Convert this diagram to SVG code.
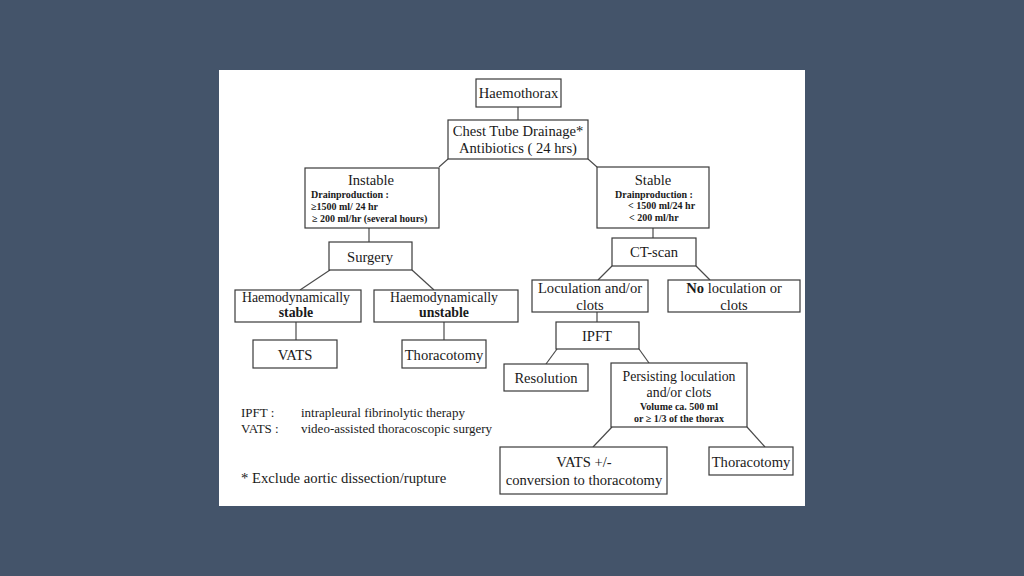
<svg xmlns="http://www.w3.org/2000/svg" width="1024" height="576" viewBox="0 0 1024 576">
<style>
.b{fill:#fff;stroke:#3a3a3a;stroke-width:1.2}
.t{font-family:"Liberation Serif",serif;font-size:14.6px;fill:#1a1a1a;text-anchor:middle}
.m{font-size:13.8px}
.s{font-family:"Liberation Serif",serif;font-size:10px;font-weight:bold;fill:#1a1a1a}
.l{font-family:"Liberation Serif",serif;font-size:13px;fill:#1a1a1a}
.c line{stroke:#4a4a4a;stroke-width:1.2}
</style>
<rect width="1024" height="576" fill="#44546a"/>
<rect x="219" y="70" width="586" height="436" fill="#fff"/>
<g class="c" id="connectors">
<line x1="518" y1="107" x2="518" y2="120"/>
<line x1="448" y1="159" x2="439" y2="167"/>
<line x1="588" y1="159" x2="597" y2="167"/>
<line x1="369" y1="228" x2="369" y2="242"/>
<line x1="330" y1="270" x2="300" y2="290"/>
<line x1="412" y1="270" x2="434" y2="290"/>
<line x1="296" y1="322" x2="296" y2="340"/>
<line x1="444" y1="322" x2="444" y2="340"/>
<line x1="653" y1="228" x2="653" y2="238"/>
<line x1="612" y1="266" x2="598" y2="280"/>
<line x1="696" y1="266" x2="710" y2="280"/>
<line x1="597" y1="312" x2="597" y2="322"/>
<line x1="557" y1="349" x2="546" y2="364"/>
<line x1="639" y1="349" x2="649" y2="363"/>
<line x1="612" y1="427" x2="593" y2="447"/>
<line x1="747" y1="427" x2="765" y2="447"/>
</g>
<g id="haemothorax"><rect class="b" x="476" y="79" width="85" height="28"/><text class="t" x="518.5" y="98">Haemothorax</text></g>
<g id="chest-tube"><rect class="b" x="448" y="120" width="140" height="39"/><text class="t" x="518" y="136">Chest Tube Drainage*</text><text class="t" x="518" y="153">Antibiotics ( 24 hrs)</text></g>
<g id="instable"><rect class="b" x="305" y="168" width="134" height="60"/><text class="t" x="371" y="185">Instable</text><text class="s" x="311" y="198">Drainproduction :</text><text class="s" x="311" y="210">≥1500 ml/ 24 hr</text><text class="s" x="312" y="222">≥ 200 ml/hr (several hours)</text></g>
<g id="stable"><rect class="b" x="597" y="167" width="112" height="61"/><text class="t" x="653" y="185">Stable</text><text class="s" x="615" y="198">Drainproduction :</text><text class="s" x="628" y="209">&lt; 1500 ml/24 hr</text><text class="s" x="629" y="221">&lt; 200 ml/hr</text></g>
<g id="surgery"><rect class="b" x="329" y="242" width="83" height="28"/><text class="t" x="370" y="262">Surgery</text></g>
<g id="haemo-stable"><rect class="b" x="235" y="290" width="126" height="32"/><text class="t m" x="296" y="302">Haemodynamically</text><text class="t m" x="296" y="317" font-weight="bold">stable</text></g>
<g id="haemo-unstable"><rect class="b" x="374" y="290" width="144" height="32"/><text class="t m" x="444" y="302">Haemodynamically</text><text class="t m" x="444" y="317" font-weight="bold">unstable</text></g>
<g id="vats-left"><rect class="b" x="253" y="340" width="84" height="28"/><text class="t" x="295" y="360">VATS</text></g>
<g id="thoracotomy-left"><rect class="b" x="402" y="340" width="84" height="28"/><text class="t" x="444" y="360">Thoracotomy</text></g>
<g id="ct-scan"><rect class="b" x="612" y="238" width="84" height="28"/><text class="t" x="654" y="257">CT-scan</text></g>
<g id="loculation"><rect class="b" x="532" y="280" width="116" height="32"/><text class="t" x="590" y="293">Loculation and/or</text><text class="t" x="590" y="310">clots</text></g>
<g id="no-loculation"><rect class="b" x="668" y="280" width="132" height="32"/><text class="t" x="734" y="293"><tspan font-weight="bold">No</tspan> loculation or</text><text class="t" x="734" y="310">clots</text></g>
<g id="ipft"><rect class="b" x="556" y="322" width="83" height="27"/><text class="t" x="597" y="341">IPFT</text></g>
<g id="resolution"><rect class="b" x="504" y="364" width="84" height="27"/><text class="t" x="546" y="383">Resolution</text></g>
<g id="persisting"><rect class="b" x="611" y="363" width="136" height="64"/><text class="t m" x="679" y="381">Persisting loculation</text><text class="t m" x="679" y="397">and/or clots</text><text class="s" x="679" y="410" text-anchor="middle">Volume ca. 500 ml</text><text class="s" x="679" y="422" text-anchor="middle">or ≥ 1/3 of the thorax</text></g>
<g id="vats-conversion"><rect class="b" x="500" y="447" width="167" height="47"/><text class="t" x="584" y="467">VATS +/-</text><text class="t" x="584" y="485">conversion to thoracotomy</text></g>
<g id="thoracotomy-right"><rect class="b" x="709" y="447" width="84" height="28"/><text class="t" x="751" y="467">Thoracotomy</text></g>
<g id="legend">
<text class="l" x="241" y="417">IPFT :</text><text class="l" x="301" y="417">intrapleural fibrinolytic therapy</text>
<text class="l" x="241" y="433">VATS :</text><text class="l" x="301" y="433">video-assisted thoracoscopic surgery</text>
<text class="l" x="241" y="483" style="font-size:14.7px">* Exclude aortic dissection/rupture</text>
</g>
</svg>
